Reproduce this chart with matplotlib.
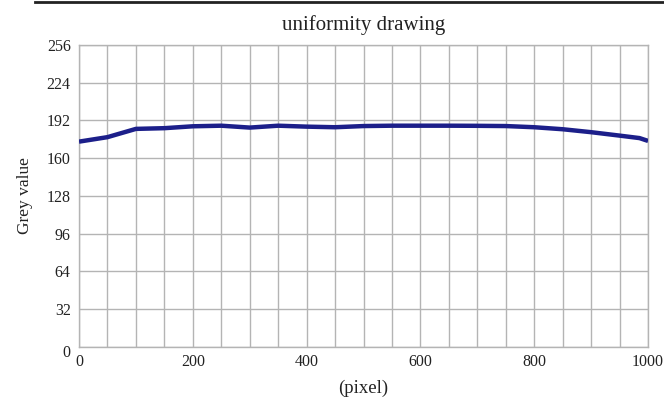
import matplotlib
matplotlib.use('Agg')

import numpy as np
import matplotlib.pyplot as plt
from matplotlib.lines import Line2D
from matplotlib.transforms import ScaledTranslation

# ---------- DATA ----------
pixel = [0, 50, 100, 150, 200, 250, 300, 350, 400, 450, 500,
         550, 600, 650, 700, 750, 800, 850, 900, 950, 985, 1000]
grey = [174.0, 177.8, 184.8, 185.4, 187.0, 187.5, 185.9, 187.5, 186.7, 186.2, 187.2,
        187.5, 187.5, 187.5, 187.4, 187.2, 186.2, 184.5, 182.0, 179.1, 177.0, 174.6]
x_ticks = [0, 200, 400, 600, 800, 1000]
y_ticks = [0, 32, 64, 96, 128, 160, 192, 224, 256]

plt.rcParams['font.family'] = ['Liberation Serif', 'DejaVu Serif']

fig = plt.figure(figsize=(6.64, 3.97), dpi=100)
ax = fig.add_axes([0.119, 0.126, 0.857, 0.761])

ax.plot(pixel, grey, color="#1c1f8a", linewidth=3.2, solid_capstyle="butt", zorder=3)

ax.set_xlim(0, 1000)
ax.set_ylim(0, 256)
ax.set_xticks(x_ticks)
ax.set_xticks(np.arange(0, 1001, 50), minor=True)
ax.set_yticks(y_ticks)
ax.grid(True, which="both", axis="x", color="#b4b4b4", linewidth=1)
ax.grid(True, which="major", axis="y", color="#b4b4b4", linewidth=1)
ax.tick_params(which="both", length=0, labelsize=11.5, colors="#222222", pad=5)
ax.tick_params(axis="y", pad=6)
for s in ax.spines.values():
    s.set_color("#b4b4b4")
    s.set_linewidth(1)

# the y "0" sits a little lower in the reference
lbl = ax.get_yticklabels()[0]
lbl.set_transform(lbl.get_transform() + ScaledTranslation(0, -3 / 72, fig.dpi_scale_trans))

ax.set_title("uniformity drawing", fontsize=15, color="#222222", pad=11)
ax.set_ylabel("Grey value", fontsize=12.5, color="#222222", labelpad=10)
ax.set_xlabel("(pixel)", fontsize=13.5, color="#222222", labelpad=7)

# black rule at the top of the figure
fig.add_artist(Line2D([0.053, 1.0], [0.996, 0.996], color="#222222", linewidth=2,
                      transform=fig.transFigure))

fig.savefig("out.png", dpi=100)
